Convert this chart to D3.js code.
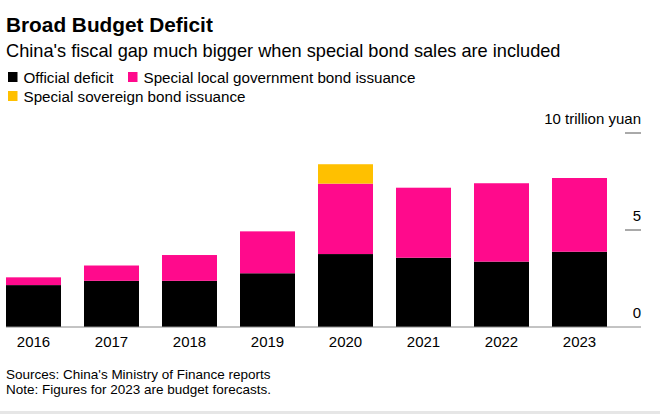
<!DOCTYPE html>
<html>
<head>
<meta charset="utf-8">
<script src="https://cdn.jsdelivr.net/npm/d3@7"></script>
<style>
  html, body { margin: 0; padding: 0; background: #fff; }
  svg { display: block; font-family: "Liberation Sans", Arial, sans-serif; }
</style>
</head>
<body>
<svg id="chart" width="660" height="414"></svg>
<script>
const years = ["2016", "2017", "2018", "2019", "2020", "2021", "2022", "2023"];
const officialDeficit = [2.16, 2.38, 2.38, 2.77, 3.76, 3.57, 3.37, 3.88];
const localBonds = [0.40, 0.79, 1.33, 2.16, 3.63, 3.61, 4.04, 3.80];
const sovereignBonds = [0, 0, 0, 0, 1.0, 0, 0, 0];
const seriesNames = ["Official deficit", "Special local government bond issuance", "Special sovereign bond issuance"];
const seriesColors = ["#000000", "#ff0a8c", "#ffc000"];
const yTicks = [0, 5, 10];
const yTickLabels = ["0", "5", "10 trillion yuan"];

const svg = d3.select("#chart");

const rows = years.map((y, i) => ({
  year: y,
  official: officialDeficit[i],
  local: localBonds[i],
  sovereign: sovereignBonds[i]
}));
const keys = ["official", "local", "sovereign"];
const stacked = d3.stack().keys(keys)(rows);

const x = d3.scaleBand().domain(years).range([6, 607]).paddingInner(0.295).paddingOuter(0);
const y = d3.scaleLinear().domain([0, 10]).range([327, 133]);

// Title & subtitle
svg.append("text").attr("x", 6).attr("y", 32).attr("font-size", 20.8).attr("font-weight", "bold")
  .attr("fill", "#000").text("Broad Budget Deficit");
svg.append("text").attr("x", 6).attr("y", 57).attr("font-size", 18.2)
  .attr("fill", "#000").text("China's fiscal gap much bigger when special bond sales are included");

// Legend
const legendPos = [[8, 82.5], [128, 82.5], [8, 101.5]];
seriesNames.forEach((n, i) => {
  const g = svg.append("g").attr("transform", `translate(${legendPos[i][0]},${legendPos[i][1]})`);
  g.append("rect").attr("x", 0).attr("y", -10.5).attr("width", 9.5).attr("height", 10).attr("fill", seriesColors[i]);
  g.append("text").attr("x", 15.5).attr("y", 0).attr("font-size", 15.2).attr("fill", "#000").text(n);
});

// Bars
svg.append("g").selectAll("g").data(stacked).join("g")
  .attr("fill", (d, i) => seriesColors[i])
  .selectAll("rect").data(d => d.filter(v => v[1] - v[0] > 0)).join("rect")
  .attr("x", d => x(d.data.year))
  .attr("width", x.bandwidth())
  .attr("y", d => y(d[1]))
  .attr("height", d => y(d[0]) - y(d[1]));

// Baseline
svg.append("line").attr("x1", 6).attr("x2", 641).attr("y1", y(0)).attr("y2", y(0))
  .attr("stroke", "#888").attr("stroke-width", 1);

// Y axis on right
const yAxis = svg.append("g");
yTicks.forEach((t, i) => {
  if (t !== 0) {
    yAxis.append("line").attr("x1", 625).attr("x2", 641).attr("y1", y(t)).attr("y2", y(t))
      .attr("stroke", "#555").attr("stroke-width", 1);
  }
  yAxis.append("text").attr("x", 641).attr("y", y(t) - 9).attr("text-anchor", "end")
    .attr("font-size", 15).attr("fill", "#000").text(yTickLabels[i]);
});

// X axis labels
const xAxis = svg.append("g").attr("transform", `translate(0,${y(0)})`)
  .call(d3.axisBottom(x).tickSize(0).tickPadding(0));
xAxis.select(".domain").remove();
xAxis.selectAll("text").attr("font-size", 15).attr("fill", "#000")
  .attr("font-family", null).attr("dy", 0).attr("y", 20);

// Footer
svg.append("text").attr("x", 6).attr("y", 379).attr("font-size", 13.5).attr("fill", "#000")
  .text("Sources: China's Ministry of Finance reports");
svg.append("text").attr("x", 6).attr("y", 393.5).attr("font-size", 13.5).attr("fill", "#000")
  .text("Note: Figures for 2023 are budget forecasts.");

svg.append("rect").attr("x", 0).attr("y", 411).attr("width", 660).attr("height", 3).attr("fill", "#e6e6e6");
</script>
</body>
</html>
